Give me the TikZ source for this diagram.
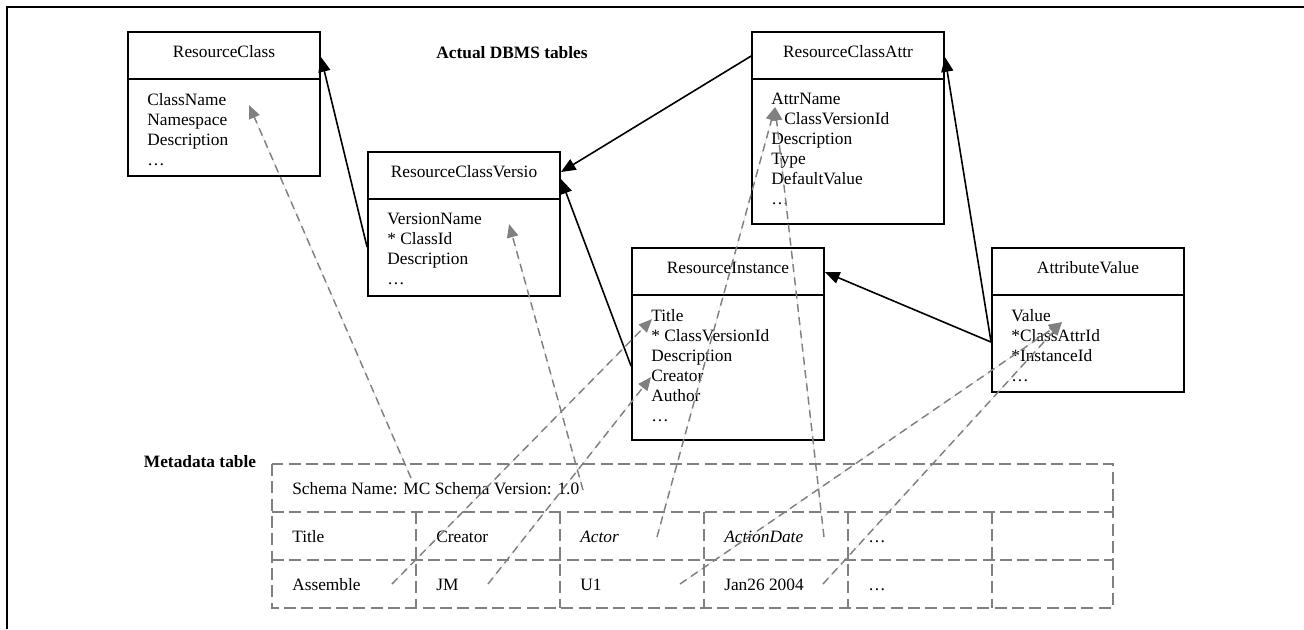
\documentclass[tikz,border=0pt]{standalone}
\usepackage{fontspec}
\setmainfont{Liberation Serif}
\usepackage{xcolor}
\usepackage{tikz}
\usetikzlibrary{
  arrows.meta,
  positioning
}
\definecolor{DbBlack}{HTML}{000000}
\definecolor{MapGray}{HTML}{808080}
\tikzset{
  every picture/.style = {line join=miter},
  every node/.style = {font=\fontsize{13}{15}\selectfont, text=DbBlack},
  frame line/.style = {draw=DbBlack, line width=1.6pt},
  tbl/.style = {
    draw=DbBlack,
    line width=1.4pt,
    minimum width=144pt,
    inner sep=0pt
  },
  tbl rule/.style = {draw=DbBlack, line width=1.4pt},
  tbl head/.style = {inner sep=0pt},
  tbl body/.style = {anchor=north west, align=left, inner sep=0pt},
  section label/.style = {font=\fontsize{13}{15}\selectfont\bfseries, inner sep=0pt},
  fk link/.style = {-{Triangle[length=11pt,width=9pt]}, draw=DbBlack, line width=1.2pt},
  map link/.style = {
    -{Triangle[length=10pt,width=8.5pt]},
    draw=MapGray, fill=MapGray,
    line width=1.1pt,
    dash pattern=on 6pt off 4pt
  },
  meta grid/.style = {draw=MapGray, line width=1.5pt, dash pattern=on 9pt off 4pt},
  cell/.style = {anchor=base west, inner sep=0pt},
}

\begin{document}
\begin{tikzpicture}[x=0.75pt,y=-0.75pt]
  \useasboundingbox (0,0) rectangle (1304,629);
  \draw[frame line] (7,629) -- (7,7) -- (1304,7);

  % actual DBMS tables
  \node[tbl, minimum height=108pt] (rc) at (224,104) {};
  \node[tbl, minimum height=108pt] (rcv) at (464,224) {};
  \node[tbl, minimum height=144pt] (rca) at (848,128) {};
  \node[tbl, minimum height=144pt] (ri) at (728,344) {};
  \node[tbl, minimum height=108pt] (av) at (1088,320) {};

  \draw[tbl rule] ([shift={(0,48)}]rc.north west) -- ([shift={(0,48)}]rc.north east);
  \draw[tbl rule] ([shift={(0,48)}]rcv.north west) -- ([shift={(0,48)}]rcv.north east);
  \draw[tbl rule] ([shift={(0,48)}]rca.north west) -- ([shift={(0,48)}]rca.north east);
  \draw[tbl rule] ([shift={(0,48)}]ri.north west) -- ([shift={(0,48)}]ri.north east);
  \draw[tbl rule] ([shift={(0,48)}]av.north west) -- ([shift={(0,48)}]av.north east);

  \node[tbl head] (rcHead) at ([shift={(0,21)}]rc.north) {ResourceClass};
  \node[tbl head] (rcvHead) at ([shift={(0,21)}]rcv.north) {ResourceClassVersio};
  \node[tbl head] (rcaHead) at ([shift={(0,21)}]rca.north) {ResourceClassAttr};
  \node[tbl head] (riHead) at ([shift={(0,21)}]ri.north) {ResourceInstance};
  \node[tbl head] (avHead) at ([shift={(0,21)}]av.north) {AttributeValue};

  \node[tbl body] (rcBody) at ([shift={(20,62)}]rc.north west) {ClassName\\Namespace\\Description\\\dots};
  \node[tbl body] (rcvBody) at ([shift={(20,62)}]rcv.north west) {VersionName\\* ClassId\\Description\\\dots};
  \node[tbl body] (rcaBody) at ([shift={(20,62)}]rca.north west) {AttrName\\* ClassVersionId\\Description\\Type\\DefaultValue\\\dots};
  \node[tbl body] (riBody) at ([shift={(20,62)}]ri.north west) {Title\\* ClassVersionId\\Description\\Creator\\Author\\\dots};
  \node[tbl body] (avBody) at ([shift={(20,62)}]av.north west) {Value\\*ClassAttrId\\*InstanceId\\\dots};

  \node[section label] (dbmsLabel) at (512,53) {Actual DBMS tables};
  \node[section label] (metaLabel) at (200,462) {Metadata table};

  % metadata table
  \draw[meta grid] (272,464) rectangle (1113,608);
  \draw[meta grid] (272,512) -- (1113,512) (272,560) -- (1113,560);
  \draw[meta grid] (416,512) -- (416,608) (560,512) -- (560,608) (704,512) -- (704,608)
    (848,512) -- (848,608) (992,512) -- (992,608);

  \node[cell] (schema) at (292,494) {Schema Name: MC Schema Version: 1.0};
  \node[cell] (hTitle) at (292,542) {Title};
  \node[cell] (hCreator) at (436,542) {Creator};
  \node[cell] (hActor) at (580,542) {\textit{Actor}};
  \node[cell] (hDate) at (724,542) {\textit{ActionDate}};
  \node[cell] (hMore) at (868,542) {\dots};
  \node[cell] (vTitle) at (292,590) {Assemble};
  \node[cell] (vCreator) at (436,590) {JM};
  \node[cell] (vActor) at (580,590) {U1};
  \node[cell] (vDate) at (724,590) {Jan26 2004};
  \node[cell] (vMore) at (868,590) {\dots};

  % foreign keys
  \draw[fk link] ([shift={(0,96)}]rcv.north west) -- ([shift={(0,26)}]rc.north east);
  \draw[fk link] ([shift={(0,25)}]rca.north west) -- ([shift={(0,21)}]rcv.north east);
  \draw[fk link] ([shift={(0,119)}]ri.north west) -- ([shift={(0,28)}]rcv.north east);
  \draw[fk link] ([shift={(0,95)}]av.north west) -- ([shift={(0,25)}]ri.north east);
  \draw[fk link] ([shift={(0,95)}]av.north west) -- ([shift={(0,26)}]rca.north east);

  % metadata mapping
  \draw[map link] ([shift={(119,-16)}]schema.base west) -- ([shift={(122,74)}]rc.north west);
  \draw[map link] ([shift={(291,-4)}]schema.base west) -- ([shift={(142,73)}]rcv.north west);
  \draw[map link] ([shift={(100,-6)}]vTitle.base west) -- ([shift={(21,72)}]ri.north west);
  \draw[map link] ([shift={(52,-6)}]vCreator.base west) -- ([shift={(20,130)}]ri.north west);
  \draw[map link] ([shift={(77,-5)}]hActor.base west) -- ([shift={(24,76)}]rca.north west);
  \draw[map link] ([shift={(100,-5)}]hDate.base west) -- ([shift={(24,76)}]rca.north west);
  \draw[map link] ([shift={(100,-6)}]vActor.base west) -- ([shift={(71,75)}]av.north west);
  \draw[map link] ([shift={(99,-6)}]vDate.base west) -- ([shift={(71,75)}]av.north west);
\end{tikzpicture}
\end{document}
